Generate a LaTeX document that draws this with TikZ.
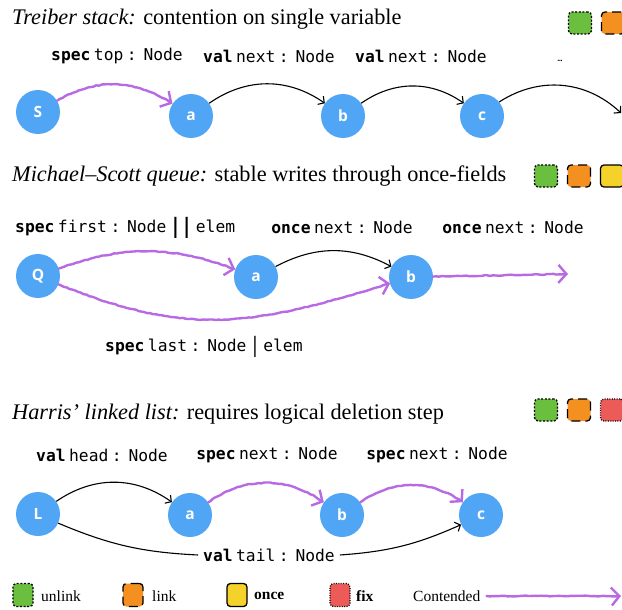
\documentclass[tikz,border=0pt]{standalone}
\usepackage{fontspec}
\usepackage{graphicx}
\setmainfont{Liberation Serif}
\newfontfamily\codefont{DejaVu Sans Mono}
\newfontfamily\letterfont{Open Sans}
\newcommand{\codesp}{\codefont\fontsize{16.3}{18}\selectfont\spaceskip 3.5pt\relax}
\usetikzlibrary{arrows.meta,decorations.pathmorphing,calc}
\definecolor{nodeblue}{HTML}{50A6F5}
\definecolor{contpurple}{HTML}{B86AE3}
\definecolor{lgreen}{HTML}{6BBF3F}
\definecolor{lorange}{HTML}{F39020}
\definecolor{lyellow}{HTML}{F5D12B}
\definecolor{lred}{HTML}{EC5B57}
\tikzset{
  obj/.style={circle, fill=nodeblue, minimum size=44pt, inner sep=0pt, text=white,
    font=\letterfont\bfseries\fontsize{15.5}{15.5}\selectfont},
  lbl/.style={font=\codesp, inner sep=1pt},
  ttl/.style={anchor=base west, inner sep=0pt, font=\fontsize{22.3}{26}\selectfont},
  ptr/.style={draw=black, line width=1.1pt, -{Straight Barb[length=4.5pt,width=10pt]}},
  cont/.style={draw=contpurple, line width=2.4pt, line cap=round, line join=round,
    decorate, decoration={random steps, segment length=3pt, amplitude=0.45pt},
    -{Straight Barb[length=8pt,width=18pt]}},
  lbox/.style={rounded corners=3.5pt, line width=1.3pt, draw=black,
    minimum width=23pt, minimum height=22pt, inner sep=0pt},
  dunlink/.style={dash pattern=on 2pt off 1.6pt},
  dlink/.style={dash pattern=on 9pt off 5pt},
  dfix/.style={dash pattern=on 1pt off 1.4pt},
  leg/.style={anchor=west, inner sep=0pt, font=\fontsize{15.5}{18}\selectfont},
}
\begin{document}
\begin{tikzpicture}[x=1pt,y=-1pt]
\useasboundingbox (0,0) rectangle (622,610);
\clip (0,0) rectangle (622,610);

% ---------- Treiber stack ----------
\node[ttl] (t1) at (12,25) {\textit{Treiber stack:} contention on single variable};
\node[lbox, fill=lgreen, dunlink] (t1g) at (580,23) {};
\node[lbox, fill=lorange, dlink] (t1o) at (613,23) {};

\node[obj] (S) at (38,112) {S};
\node[obj] (a1) at (191,116) {a};
\node[obj] (b1) at (343,116) {b};
\node[obj] (c1) at (482,116) {c};
\coordinate (off1) at (621,113);

\node[lbl] (l1a) at (117,56) {\textbf{spec} top : Node};
\node[lbl] (l1b) at (269,56) {\textbf{val} next : Node};
\node[lbl] (l1c) at (421,56) {\textbf{val} next : Node};
\node[lbl, font=\codefont\fontsize{8}{8}\selectfont] (l1d) at (560,61) {…};

\draw[cont] (S) to[bend left=32] (a1);
\draw[ptr] (a1) to[bend left=35] (b1);
\draw[ptr] (b1) to[bend left=35] (c1);
\draw[ptr] (c1) to[bend left=38] (off1);

% ---------- Michael-Scott queue ----------
\node[ttl] (t2) at (12,182) {\textit{Michael–Scott queue:} stable writes through once-fields};
\node[lbox, fill=lgreen, dunlink] (t2g) at (546,176) {};
\node[lbox, fill=lorange, dlink] (t2o) at (579,176) {};
\node[lbox, fill=lyellow] (t2y) at (612,176) {};

\node[obj] (Q) at (38,276) {Q};
\node[obj] (a2) at (256,277) {a};
\node[obj] (b2) at (411,277) {b};
\coordinate (off2) at (568,274);

\node[lbl, anchor=west] (l2a) at (14,228) {\textbf{spec} first : Node \raisebox{-1.5pt}{\scalebox{1.15}[1.3]{\bfseries||}} elem};
\node[lbl] (l2b) at (342,227) {\textbf{once} next : Node};
\node[lbl] (l2c) at (513,227) {\textbf{once} next : Node};
\node[lbl, anchor=west] (l2d) at (104,347) {\textbf{spec} last : Node \raisebox{-1.5pt}{\scalebox{1}[1.3]{|}} elem};

\draw[cont] (Q) to[bend left=20] (a2);
\draw[ptr] (a2) to[bend left=28] (b2);
\draw[cont] (Q) to[out=-22,in=197,looseness=1.1] (b2);
\draw[cont] (b2) -- (off2);

% ---------- Harris linked list ----------
\node[ttl] (t3) at (12,419) {\textit{Harris’ linked list:} requires logical deletion step};
\node[lbox, fill=lgreen, dunlink] (t3g) at (546,410) {};
\node[lbox, fill=lorange, dlink] (t3o) at (579,410) {};
\node[lbox, fill=lred, dfix] (t3r) at (612,410) {};

\node[obj] (L) at (38,514) {L};
\node[obj] (a3) at (190,515) {a};
\node[obj] (b3) at (342,515) {b};
\node[obj] (c3) at (481,515) {c};

\node[lbl] (l3a) at (102,455) {\textbf{val} head : Node};
\node[lbl] (l3b) at (267,455) {\textbf{spec} next : Node};
\node[lbl] (l3c) at (437,455) {\textbf{spec} next : Node};
\node[lbl, inner sep=5pt] (l3d) at (269,555) {\textbf{val} tail : Node};

\draw[ptr] (L) to[bend left=35] (a3);
\draw[cont] (a3) to[bend left=35] (b3);
\draw[cont] (b3) to[bend left=35] (c3);
\draw[draw=black, line width=1.1pt] (L) to[bend right=10] (l3d.west);
\draw[ptr] (l3d.east) to[bend right=10] (c3);

% ---------- Legend ----------
\node[lbox, fill=lgreen, dunlink, minimum width=20pt, minimum height=23pt] (kg) at (23,595) {};
\node[leg] (kgt) at (41,596) {unlink};
\node[lbox, fill=lorange, dlink, minimum width=20pt, minimum height=23pt] (ko) at (133,595) {};
\node[leg] (kot) at (152,596) {link};
\node[lbox, fill=lyellow, minimum width=20pt, minimum height=23pt] (ky) at (237,595) {};
\node[leg] (kyt) at (254,596) {\textbf{once}};
\node[lbox, fill=lred, dfix, minimum width=20pt, minimum height=23pt] (kr) at (340,595) {};
\node[leg] (krt) at (356,596) {\textbf{fix}};
\node[leg] (kct) at (413,596) {Contended};
\coordinate (kce) at (621,596);
\draw[cont] (kct.east) ++(6,0) coordinate (kcs) -- (kce);
\end{tikzpicture}
\end{document}
